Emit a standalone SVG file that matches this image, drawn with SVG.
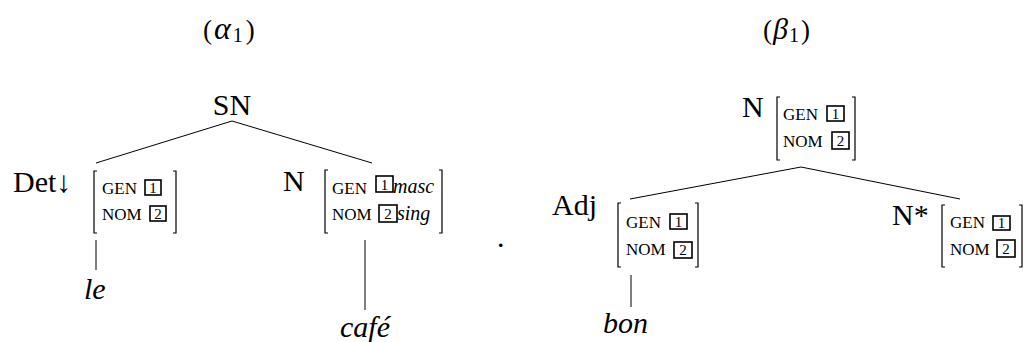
<svg xmlns="http://www.w3.org/2000/svg" width="1024" height="342" viewBox="0 0 1024 342">
<style>
text{font-family:"Liberation Serif","Times New Roman",serif;fill:#000}
.lab{font-size:30px}
.ttl{font-size:27px}
.it{font-style:italic}
.sc{font-size:17px}
.scit{font-size:20px;font-style:italic}
.num{font-size:15px;text-anchor:middle}
.box{fill:none;stroke:#000;stroke-width:1.6}
.br{fill:none;stroke:#000;stroke-width:1.2}
.edge{stroke:#000;stroke-width:1;fill:none}
</style>
<rect width="1024" height="342" fill="#fff"/>
<g id="title-alpha"><text class="ttl" x="203" y="39">(<tspan class="it" font-size="32" dx="2">α</tspan><tspan font-size="20" dx="2" dy="3">1</tspan><tspan dx="3" dy="-3">)</tspan></text></g>
<g id="title-beta"><text class="ttl" x="763" y="39">(<tspan class="it" font-size="30" dx="1">β</tspan><tspan font-size="20" dx="1" dy="3">1</tspan><tspan dx="2" dy="-3">)</tspan></text></g>
<g id="connectors">
<line class="edge" x1="232" y1="121" x2="96" y2="163"/>
<line class="edge" x1="232" y1="121" x2="372" y2="163"/>
<line class="edge" x1="96" y1="240" x2="96" y2="270"/>
<line class="edge" x1="365" y1="240" x2="365" y2="310"/>
<line class="edge" x1="801" y1="167" x2="630" y2="199"/>
<line class="edge" x1="801" y1="167" x2="960" y2="199"/>
<line class="edge" x1="631" y1="275" x2="631" y2="307"/>
</g>
<g id="SN"><text class="lab" x="232" y="115" text-anchor="middle">SN</text></g>
<g id="Det">
<text class="lab" x="13" y="192">Det↓</text>
<path class="br" d="M97,171 H94 V233 H97 M173,171 H176 V233 H173"/>
<text class="sc" x="102" y="194">GEN</text><rect class="box" x="145" y="180" width="16" height="15"/><text class="num" x="153" y="193">1</text>
<text class="sc" x="102" y="220">NOM</text><rect class="box" x="150" y="206" width="16" height="15"/><text class="num" x="158" y="219">2</text>
</g>
<g id="le"><text class="lab it" x="84" y="299">le</text></g>
<g id="N1">
<text class="lab" x="283" y="191">N</text>
<path class="br" d="M328,170 H325 V233 H328 M439,170 H442 V233 H439"/>
<text class="sc" x="332" y="194">GEN</text><rect class="box" x="376" y="176" width="17" height="16"/><text class="num" x="384.5" y="190">1</text><text class="scit" x="393" y="193">masc</text>
<text class="sc" x="332" y="220">NOM</text><rect class="box" x="379" y="205" width="18" height="17"/><text class="num" x="388" y="219">2</text><text class="scit" x="397" y="220">sing</text>
</g>
<g id="cafe"><text class="lab it" x="340" y="337">café</text></g>
<g id="dot"><text class="lab" x="497" y="247">.</text></g>
<g id="Nroot">
<text class="lab" x="742" y="117">N</text>
<path class="br" d="M780,97 H777 V160 H780 M852,97 H855 V160 H852"/>
<text class="sc" x="783" y="120">GEN</text><rect class="box" x="827" y="106" width="17" height="15"/><text class="num" x="835.5" y="119">1</text>
<text class="sc" x="783" y="147">NOM</text><rect class="box" x="832" y="132" width="17" height="17"/><text class="num" x="840.5" y="146">2</text>
</g>
<g id="Adj">
<text class="lab" x="552" y="215">Adj</text>
<path class="br" d="M621,203 H618 V267 H621 M695,203 H698 V267 H695"/>
<text class="sc" x="626" y="228">GEN</text><rect class="box" x="670" y="214" width="17" height="15"/><text class="num" x="678.5" y="227">1</text>
<text class="sc" x="626" y="255">NOM</text><rect class="box" x="674" y="242" width="18" height="16"/><text class="num" x="683" y="255">2</text>
</g>
<g id="bon"><text class="lab it" x="603" y="333">bon</text></g>
<g id="Nstar">
<text class="lab" x="892" y="225">N*</text>
<path class="br" d="M945,205 H942 V267 H945 M1019,205 H1022 V267 H1019"/>
<text class="sc" x="950" y="228">GEN</text><rect class="box" x="993" y="216" width="17" height="14"/><text class="num" x="1001.5" y="228">1</text>
<text class="sc" x="950" y="255">NOM</text><rect class="box" x="997" y="240" width="18" height="17"/><text class="num" x="1006" y="254">2</text>
</g>
</svg>
